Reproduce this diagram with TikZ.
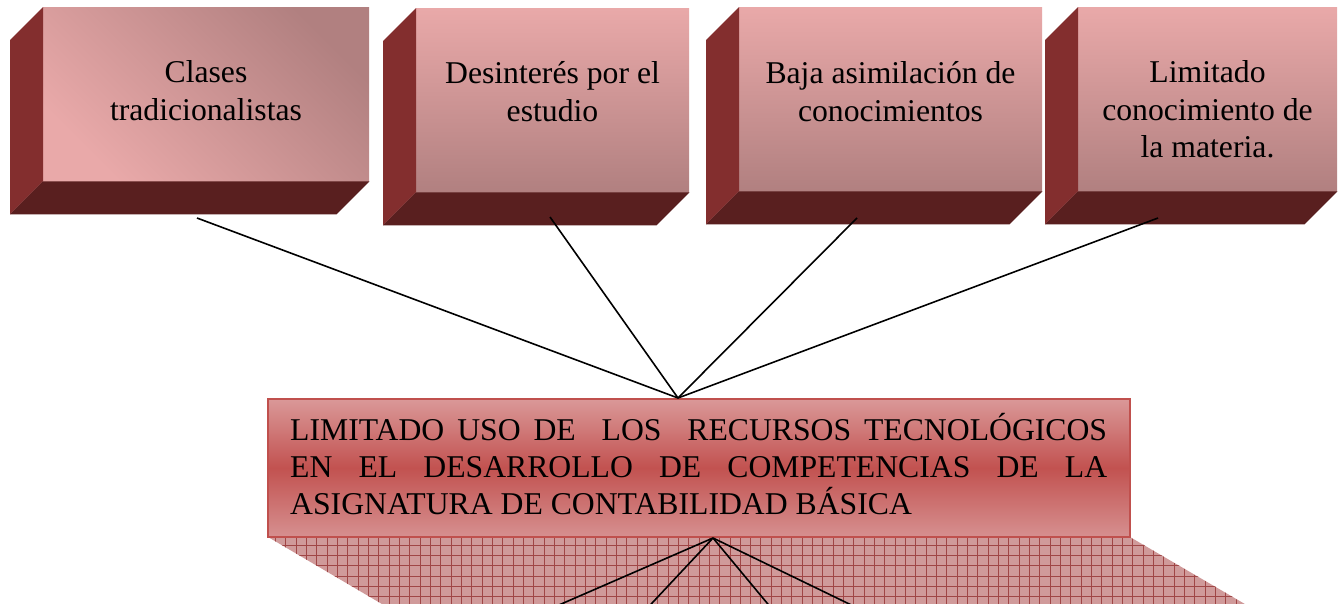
\documentclass[tikz,border=0pt]{standalone}
\usepackage{fontspec}
\setmainfont{Liberation Serif}
\usetikzlibrary{calc}
\definecolor{sidered}{HTML}{832E2E}
\definecolor{bottomred}{HTML}{591F1F}
\definecolor{facelight}{HTML}{E9A9A9}
\definecolor{facedark}{HTML}{B18080}
\definecolor{mainedge}{HTML}{C0504D}
\definecolor{maintop}{HTML}{DA9898}
\definecolor{mainmid}{HTML}{C25250}
\definecolor{mainbot}{HTML}{D69090}
\definecolor{hatchbg}{HTML}{D09A9A}
\definecolor{hatchline}{HTML}{A04646}
\newcommand\boxfaces[1]{%
  \fill[sidered] (#1.north west) -- ++(-33,33) -- ($(#1.south west)+(-33,33)$) -- (#1.south west) -- cycle;
  \fill[bottomred] (#1.south west) -- ++(-33,33) -- ($(#1.south east)+(-33,33)$) -- (#1.south east) -- cycle;}
\tikzset{
  frontbox/.style={rectangle, inner sep=0pt, anchor=north west, draw=none,
    top color=facelight, bottom color=facedark},
  diagbox/.style={rectangle, inner sep=0pt, anchor=north west, draw=none,
    top color=facedark, bottom color=facelight, shading angle=-45},
  boxtext/.style={anchor=base, align=center, inner sep=0pt,
    font=\fontsize{31.7}{37.5}\selectfont},
  mainbox/.style={rectangle, inner sep=0pt, anchor=north west, draw=mainedge, line width=2pt,
    top color=maintop, bottom color=mainbot, middle color=mainmid},
  maintext/.style={anchor=base west, align=left, inner sep=0pt,
    font=\fontsize{31.7}{37.2}\selectfont},
  link/.style={draw=black, line width=1.6pt},
}
\begin{document}
\begin{tikzpicture}[x=1pt, y=-1pt]
\clip (0,0) rectangle (1344,603);
\fill[white] (0,0) rectangle (1344,603);

% top boxes
\node[diagbox, minimum width=326pt, minimum height=174pt] (b1) at (43,7) {};
\boxfaces{b1}
\node[frontbox, minimum width=273pt, minimum height=184pt] (b2) at (416,8) {};
\boxfaces{b2}
\node[frontbox, minimum width=303pt, minimum height=184pt] (b3) at (739,7) {};
\boxfaces{b3}
\node[frontbox, minimum width=259pt, minimum height=184pt] (b4) at (1078,7) {};
\boxfaces{b4}

% (anchor base = baseline of the last line)
\node[boxtext] (t1) at (206,120) {Clases\\tradicionalistas};
\node[boxtext] (t2) at (552.5,121) {Desinterés por el\\estudio};
\node[boxtext] (t3) at (890.5,121) {Baja asimilación de\\conocimientos};
\node[boxtext] (t4) at (1207.5,157.5) {Limitado\\conocimiento de\\la materia.};

% hatched extrusion below the main box
\coordinate (h1) at (268,537);
\coordinate (h2) at (1130,537);
\coordinate (h3) at (1250,607);
\coordinate (h4) at (387,607);
\fill[hatchbg] (h1) -- (h2) -- (h3) -- (h4) -- cycle;
\begin{scope}
  \clip (h1) -- (h2) -- (h3) -- (h4) -- cycle;
  \foreach \i in {0,...,96} \draw[hatchline, line width=0.9pt] ({265.1+\i*10.33},530) -- ++(0,80);
  \foreach \j in {0,...,7} \draw[hatchline, line width=0.9pt] (260,{545+\j*10.33}) -- ++(1000,0);
\end{scope}

% main box
\node[mainbox, minimum width=862pt, minimum height=138pt] (m) at (267,398) {};
\node[maintext] (mt) at (290,514.5) {%
  \makebox[817pt][s]{LIMITADO USO DE\ \ LOS\ \ RECURSOS TECNOLÓGICOS}\\
  \makebox[817pt][s]{EN EL DESARROLLO DE COMPETENCIAS DE LA}\\
  ASIGNATURA DE CONTABILIDAD BÁSICA};

% connectors
\coordinate (apexT) at ($(m.north west)+(411,0)$);
\coordinate (apexB) at ($(m.south west)+(446,0)$);
\coordinate (a1) at (197,218);
\coordinate (a2) at (550,217);
\coordinate (a3) at (857,218);
\coordinate (a4) at (1158,218);
\draw[link] (a1) -- (apexT);
\draw[link] (a2) -- (apexT);
\draw[link] (a3) -- (apexT);
\draw[link] (a4) -- (apexT);
\coordinate (e1) at (556.6,606);
\coordinate (e2) at (649.3,606);
\coordinate (e3) at (769.5,606);
\coordinate (e4) at (853.4,606);
\draw[link] (apexB) -- (e1);
\draw[link] (apexB) -- (e2);
\draw[link] (apexB) -- (e3);
\draw[link] (apexB) -- (e4);
\end{tikzpicture}
\end{document}
